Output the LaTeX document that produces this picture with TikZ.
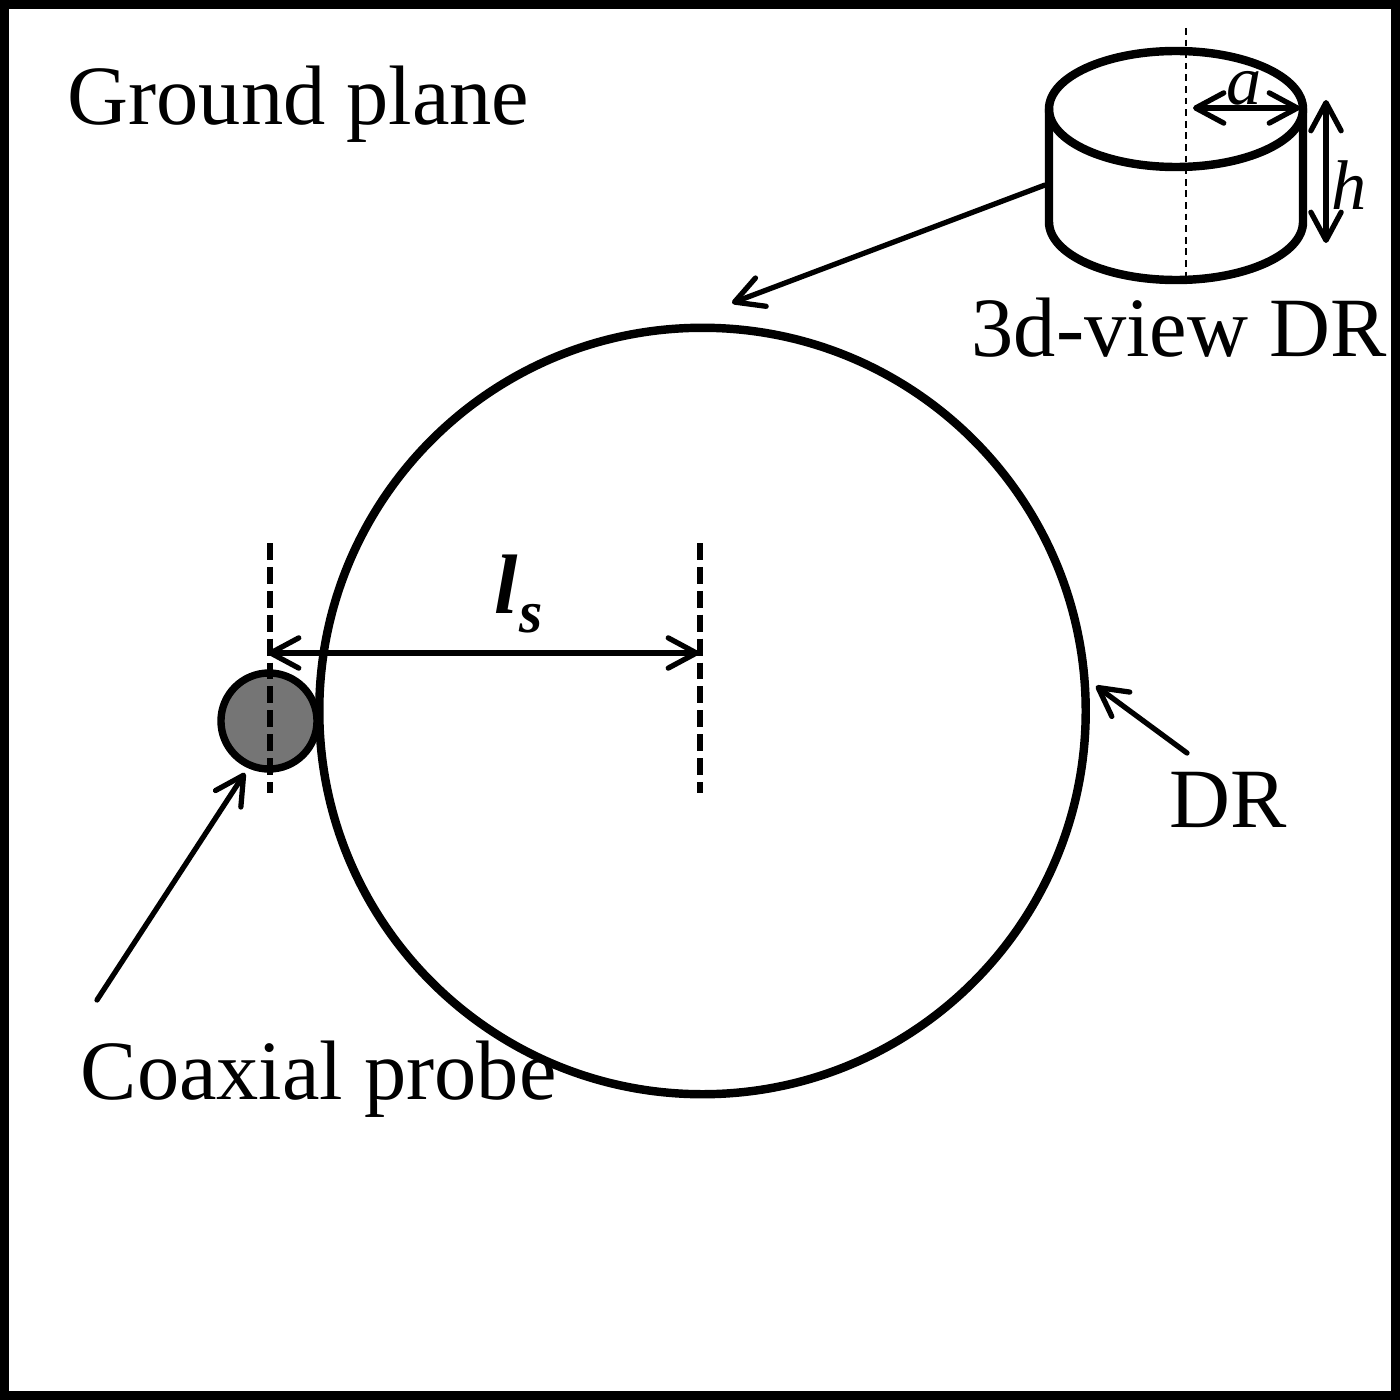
\documentclass[tikz,border=0pt]{standalone}
\usepackage{fontspec}
\setmainfont{Liberation Serif}
\usetikzlibrary{arrows.meta}
\definecolor{probegray}{HTML}{757575}
\tikzset{
  x=0.01cm,y=-0.01cm,
  label text/.style={inner sep=0pt,anchor=base west,font=\fontsize{24}{28}\selectfont},
  math text/.style={inner sep=0pt,anchor=base west,font=\fontsize{20}{24}\selectfont\itshape},
  thick stroke/.style={line width=2.4pt},
  barb/.tip={Straight Barb[length=8pt,width=8.6pt,line width=1.5pt,round]},
  pointer/.style={line width=1.5pt,line cap=round,-barb},
  dimline/.style={line width=1.5pt,line cap=round,barb-barb},
  axisdash/.style={line width=1.7pt,dash pattern=on 4.8pt off 2pt},
  thindash/.style={line width=0.6pt,dash pattern=on 1.9pt off 1.4pt},
}
\begin{document}
\begin{tikzpicture}
\useasboundingbox (0,0) rectangle (1400,1400);
\fill[white] (0,0) rectangle (1400,1400);
\draw[black,line width=2.6pt] (4.5,4.5) rectangle (1395.5,1395.5);

% main resonator and probe
\node[circle,draw,thick stroke,inner sep=0pt,minimum size=7.66cm] (dr) at (702.5,711) {};
\node[circle,draw,fill=probegray,line width=2.1pt,inner sep=0pt,minimum size=0.96cm] (probe) at (269,721) {};

% axes
\coordinate (pa) at (270,543); \coordinate (pb) at (270,793);
\coordinate (ca) at (700,543); \coordinate (cb) at (700,793);
\draw[axisdash] (pa) -- (pb);
\draw[axisdash] (ca) -- (cb);

% ls dimension
\coordinate (lsl) at (268,653); \coordinate (lsr) at (699,653);
\draw[dimline] (lsl) -- (lsr);
\node[inner sep=0pt,anchor=base west,font=\fontsize{24}{28}\selectfont\bfseries\itshape] (lsl text) at (494,613) {l};
\node[inner sep=0pt,anchor=base west,font=\fontsize{17}{20}\selectfont\bfseries\itshape] (lss text) at (519,632) {s};

% cylinder
\coordinate (tl) at (1049,109); \coordinate (tr) at (1303,109);
\coordinate (bl) at (1049,222); \coordinate (br) at (1303,222);
\draw[thick stroke] (1176,109) ellipse [x radius=127,y radius=58];
\draw[thick stroke,line cap=round] (tl) -- (bl) arc[start angle=180,end angle=0,x radius=127,y radius=58] -- (tr);
\coordinate (cyla) at (1186,28); \coordinate (cylb) at (1186,278);
\draw[thindash] (cyla) -- (cylb);
\coordinate (aL) at (1193,108); \coordinate (aR) at (1300,108);
\draw[dimline] (aL) -- (aR);
\coordinate (hT) at (1326,100); \coordinate (hB) at (1326,243);
\draw[dimline] (hT) -- (hB);
\node[math text] (atext) at (1226,105) {a};
\node[math text] (htext) at (1331,209) {h};

% pointers
\coordinate (cylp) at (1045,185); \coordinate (drtop) at (732,303);
\draw[pointer] (cylp) -- (drtop);
\coordinate (drs) at (1187,753); \coordinate (dre) at (1096,686);
\draw[pointer] (drs) -- (dre);
\coordinate (cps) at (97,1000); \coordinate (cpe) at (245,773);
\draw[pointer] (cps) -- (cpe);

% labels
\node[label text] (ground) at (67,125) {Ground plane};
\node[label text] (view) at (971,356) {3d-view DR};
\node[label text] (drl) at (1169,827) {DR};
\node[label text] (coax) at (80,1099) {Coaxial probe};
\end{tikzpicture}
\end{document}
